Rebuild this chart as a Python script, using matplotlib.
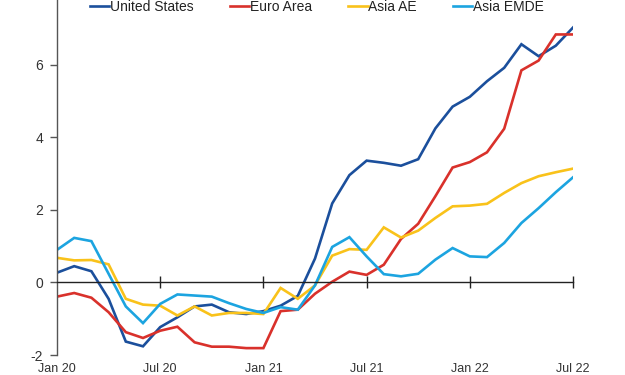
import matplotlib.pyplot as plt
import numpy as np

months = ['Jan 20', 'Feb 20', 'Mar 20', 'Apr 20', 'May 20', 'Jun 20', 'Jul 20', 'Aug 20', 'Sep 20', 'Oct 20', 'Nov 20', 'Dec 20',
	'Jan 21', 'Feb 21', 'Mar 21', 'Apr 21', 'May 21', 'Jun 21', 'Jul 21', 'Aug 21', 'Sep 21', 'Oct 21', 'Nov 21', 'Dec 21',
	'Jan 22', 'Feb 22', 'Mar 22', 'Apr 22', 'May 22', 'Jun 22', 'Jul 22']

united_states = [0.27, 0.45, 0.31, -0.45, -1.63, -1.76, -1.23, -0.96, -0.66, -0.61, -0.82, -0.87, -0.79, -0.64, -0.37, 0.66,
	2.18, 2.96, 3.36, 3.30, 3.22, 3.40, 4.25, 4.85, 5.12, 5.55, 5.92, 6.57, 6.24, 6.53, 7.03]
euro_area = [-0.39, -0.29, -0.42, -0.82, -1.37, -1.53, -1.33, -1.22, -1.65, -1.77, -1.77, -1.81, -1.81, -0.79, -0.75, -0.31,
	0.02, 0.30, 0.21, 0.49, 1.20, 1.62, 2.38, 3.17, 3.32, 3.59, 4.24, 5.85, 6.12, 6.84, 6.84]
asia_ae = [0.68, 0.61, 0.62, 0.50, -0.45, -0.61, -0.64, -0.91, -0.66, -0.91, -0.84, -0.84, -0.87, -0.15, -0.45, -0.08,
	0.74, 0.92, 0.90, 1.52, 1.24, 1.43, 1.78, 2.10, 2.12, 2.17, 2.47, 2.74, 2.93, 3.04, 3.14]
asia_emde = [0.90, 1.23, 1.14, 0.24, -0.66, -1.12, -0.59, -0.33, -0.36, -0.39, -0.57, -0.73, -0.84, -0.68, -0.75, -0.08,
	0.98, 1.25, 0.72, 0.23, 0.17, 0.24, 0.63, 0.95, 0.72, 0.70, 1.09, 1.64, 2.05, 2.49, 2.90]

series_names = ['United States', 'Euro Area', 'Asia AE', 'Asia EMDE']
colors = ['#1b4f9c', '#d9312b', '#f9c21a', '#1ca4e0']

tick_labels = ['Jan 20', 'Jul 20', 'Jan 21', 'Jul 21', 'Jan 22', 'Jul 22']

plt.rcParams['font.family'] = ['Liberation Sans', 'DejaVu Sans']
plt.rcParams['axes.unicode_minus'] = False

fig = plt.figure(figsize=(6.25, 3.75), dpi=100)
ax = fig.add_axes([0.0912, 0.0533, 0.8256, 0.967])

x = np.arange(len(months))
for vals, name, c in zip([united_states, euro_area, asia_ae, asia_emde], series_names, colors):
	ax.plot(x, vals, color=c, linewidth=1.9, label=name, solid_joinstyle='miter')

ax.set_xlim(0, len(months) - 1)
ax.set_ylim(-2, 8)

# zero line acts as the x axis, with ticks crossing it
ax.spines['top'].set_visible(False)
ax.spines['right'].set_visible(False)
ax.spines['bottom'].set_position(('data', 0))
ax.spines['bottom'].set_color('#222222')
ax.spines['bottom'].set_linewidth(1.0)
ax.spines['left'].set_color('#555555')
ax.spines['left'].set_linewidth(1.0)

tick_pos = [months.index(t) for t in tick_labels]
ax.set_xticks(tick_pos[1:])
ax.set_xticklabels([])
ax.tick_params(axis='x', direction='inout', length=8, width=1.0, color='#222222')

ax.set_yticks([-2, 0, 2, 4, 6])
ax.set_yticklabels(['-2', '0', '2', '4', '6'])
ax.tick_params(axis='y', direction='out', length=5, width=1.0, color='#555555', labelsize=10, labelcolor='#333333', pad=5)

# month labels sit below the plot, at the bottom edge
sec = ax.secondary_xaxis('bottom')
sec.spines['bottom'].set_visible(False)
sec.set_xticks(tick_pos)
sec.set_xticklabels(tick_labels)
sec.tick_params(axis='x', length=0, labelsize=9, labelcolor='#333333', pad=6)

fig.legend(loc='center', bbox_to_anchor=(0.507, 1 - 7 / 375), ncol=4, frameon=False,
	fontsize=10, handlelength=1.4, handletextpad=0.05, columnspacing=2.6, labelcolor='#222222')

fig.savefig('out.png', dpi=100)
